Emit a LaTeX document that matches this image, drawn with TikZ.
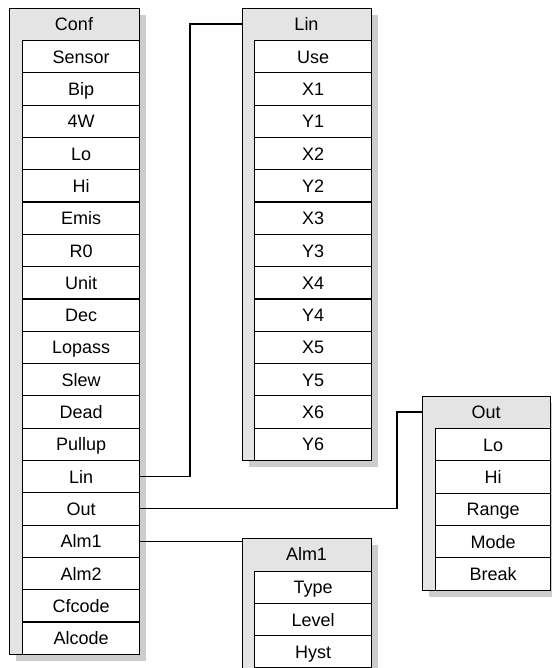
\documentclass[tikz,border=0pt]{standalone}
\usepackage{fontspec}
\setmainfont{Liberation Sans}
\definecolor{panelgray}{HTML}{E4E4E4}
\definecolor{shadegray}{HTML}{CDCDCD}
\tikzset{
  panel/.style={draw=black, fill=panelgray, line width=1.1pt, inner sep=0pt, anchor=north west},
  shade/.style={fill=shadegray},
  cell/.style={draw=black, fill=white, line width=1.1pt, inner sep=0pt,
    minimum width=117pt, minimum height=32.3pt, anchor=north west,
    text height=13pt, text depth=0pt, font=\fontsize{18}{21}\selectfont},
  head/.style={inner sep=0pt, text height=13pt, text depth=0pt, font=\fontsize{18}{21}\selectfont},
  link/.style={draw=black, line width=1.1pt}
}
\begin{document}
\begin{tikzpicture}[x=1pt, y=-1pt]
  \useasboundingbox (0,0) rectangle (551,668);
  %
  % CONF
  \fill[shade] (16,15) rectangle (146,661);
  \node[panel, minimum width=130pt, minimum height=646pt] (conf) at (9,8) {};
  \node[head] (conf-t) at (74,24) {Conf};
  \foreach \lbl [count=\i from 0] in {Sensor,Bip,4W,Lo,Hi,Emis,R0,Unit,Dec,Lopass,Slew,Dead,Pullup,Lin,Out,Alm1,Alm2,Cfcode,Alcode}
    \node[cell] (conf-\i) at (22,{40+32.3*\i}) {\lbl};
  %
  % LIN
  \fill[shade] (249,15) rectangle (378,467);
  \node[panel, minimum width=129pt, minimum height=452pt] (lin) at (242,8) {};
  \node[head] (lin-t) at (306.5,24) {Lin};
  \foreach \lbl [count=\i from 0] in {Use,X1,Y1,X2,Y2,X3,Y3,X4,Y4,X5,Y5,X6,Y6}
    \node[cell] (lin-\i) at (254,{40+32.3*\i}) {\lbl};
  %
  % OUT
  \fill[shade] (429,403) rectangle (558,597);
  \node[panel, minimum width=128pt, minimum height=194pt] (out) at (422,396) {};
  \node[head] (out-t) at (486,412) {Out};
  \foreach \lbl [count=\i from 0] in {Lo,Hi,Range,Mode,Break}
    \node[cell, minimum width=115pt] (out-\i) at (435,{428+32.3*\i}) {\lbl};
  %
  % ALM1
  \fill[shade] (249,545) rectangle (378,680);
  \node[panel, minimum width=129pt, minimum height=130pt] (alm) at (242,538) {};
  \node[head] (alm-t) at (306.5,554) {Alm1};
  \foreach \lbl [count=\i from 0] in {Type,Level,Hyst}
    \node[cell] (alm-\i) at (254,{570.5+32.3*\i}) {\lbl};
  %
  % connectors
  \coordinate (lin-bend) at (190,24);
  \coordinate (out-bend) at (397,412);
  \draw[link] (conf-13.east) -| (lin-bend) -- (lin.west |- lin-t);
  \draw[link] (conf-14.east) -| (out-bend) -- (out.west |- out-t);
  \draw[link] (conf-15.east) -- (alm.west |- conf-15.east);
  %
\end{tikzpicture}
\end{document}
